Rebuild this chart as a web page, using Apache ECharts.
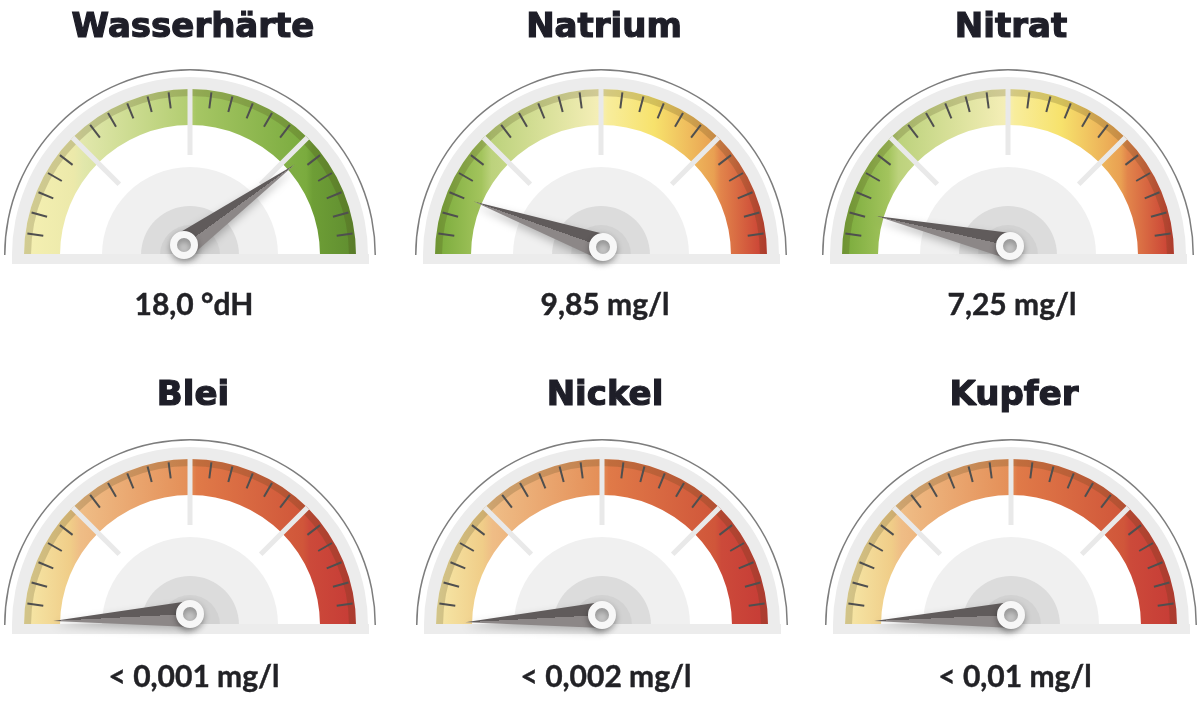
<!DOCTYPE html>
<html><head><meta charset="utf-8">
<script src="https://cdn.jsdelivr.net/npm/echarts@6/dist/echarts.min.js"></script>
<style>html,body{margin:0;padding:0;background:#fff}#c{width:1200px;height:705px}</style>
</head><body><div id="c"></div>
<script>
// ---- data ----
const titles = ['Wasserhärte', 'Natrium', 'Nitrat', 'Blei', 'Nickel', 'Kupfer'];
const valueLabels = ['18,0 °dH', '9,85 mg/l', '7,25 mg/l', '< 0,001 mg/l', '< 0,002 mg/l', '< 0,01 mg/l'];
// needle position in % of the dial (0 = far left, 100 = far right)
const needleValues = [80, 10.8, 7, -1.6, -1.7, -1.4];
const schemes = ['green', 'traffic', 'traffic', 'red', 'red', 'red'];

// ---- layout / style ----
const centers = [[190, 255], [601, 255], [1008, 255], [190, 625], [602, 625], [1011, 625]];
const hubOffsets = [[-6, -10], [2, -8], [2, -9], [0, -11], [0, -10], [0, -10]];
const palettes = {
  green: [[0, '#f5f0b2'], [0.15, '#ece9aa'], [0.18, '#e1e7ab'], [0.5, '#b2cd70'], [0.52, '#a6c664'], [0.85, '#7aab3e'], [0.87, '#6e9e36'], [1, '#5f8d2f']],
  traffic: [[0, '#78aa3a'], [0.14, '#a3c45d'], [0.17, '#bcd27c'], [0.5, '#f6efb8'], [0.52, '#f8ed9c'], [0.66, '#f7e26c'], [0.84, '#e9a052'], [0.86, '#e2854b'], [1, '#c83b33']],
  red: [[0, '#f6e8a8'], [0.14, '#f0cd88'], [0.17, '#efbd86'], [0.5, '#e48e57'], [0.52, '#e07a48'], [0.84, '#d0563a'], [0.86, '#cc4a3a'], [1, '#c63b36']]
};

function hidden(cx, cy, r) {
  return {
    type: 'gauge', center: [cx, cy], radius: r, startAngle: 180, endAngle: 0,
    min: 0, max: 100, silent: true, animation: false,
    axisLine: { show: false, lineStyle: { width: 0 } },
    axisTick: { show: false }, splitLine: { show: false }, axisLabel: { show: false },
    pointer: { show: false }, anchor: { show: false }, title: { show: false }, detail: { show: false },
    data: [{ value: 0 }]
  };
}
function ring(cx, cy, r, w, color, z) {
  const s = hidden(cx, cy, r);
  s.axisLine = { show: true, lineStyle: { width: w, color: [[1, color]] } };
  s.z = z || 2;
  return s;
}

const series = [];
const graphics = [];
centers.forEach(function (c, i) {
  const cx = c[0], cy = c[1];
  const pal = palettes[schemes[i]];
  const grad = {
    type: 'linear', x: cx - 166, y: 0, x2: cx + 166, y2: 0, global: true,
    colorStops: pal.map(function (p) { return { offset: p[0], color: p[1] }; })
  };
  series.push(ring(cx, cy, 186, 1.5, '#7d7d7d'));
  series.push(ring(cx, cy, 178, 12, '#ececec'));
  series.push(ring(cx, cy, 166, 36, grad));
  series.push(ring(cx, cy, 166, 7, 'rgba(70,60,20,0.2)'));
  // ticks
  const t = hidden(cx, cy, 166);
  t.startAngle = 172.5; t.endAngle = 7.5; t.splitNumber = 22;
  t.splitLine = { show: true, distance: 2, length: 16, lineStyle: { color: '#4f4f4f', width: 2 } };
  t.z = 2;
  series.push(t);
  // separators
  const s = hidden(cx, cy, 166);
  s.startAngle = 135; s.endAngle = 45; s.splitNumber = 2;
  s.splitLine = { show: true, distance: 0.01, length: 66, lineStyle: { color: '#e9e9e9', width: 5 } };
  s.z = 2;
  series.push(s);
  // inner discs
  series.push(ring(cx, cy, 88, 88, '#f0f0f0'));
  series.push(ring(cx, cy, 49, 49, '#dcdcdc'));
  series.push(ring(cx, cy, 30, 30, '#d2d2d2'));
  // bottom bar
  graphics.push({ type: 'rect', z: 3, silent: true, shape: { x: cx - 178, y: cy - 1, width: 357, height: 10 }, style: { fill: '#ececec' } });
  // needle
  const v = needleValues[i];
  const darkLeft = v > 50;
  const n = hidden(cx + hubOffsets[i][0], cy + hubOffsets[i][1], 137);
  n.min = -10; n.max = 110; n.startAngle = 198; n.endAngle = -18;
  n.z = 5;
  n.pointer = {
    show: true, icon: 'triangle', length: 137, width: 26, offsetCenter: [0, 0],
    itemStyle: {
      color: {
        type: 'linear', x: 0, y: 0, x2: 1, y2: 0,
        colorStops: darkLeft
          ? [{ offset: 0, color: '#605b5b' }, { offset: 0.5, color: '#605b5b' }, { offset: 0.5, color: '#8c8787' }, { offset: 1, color: '#8c8787' }]
          : [{ offset: 0, color: '#8c8787' }, { offset: 0.5, color: '#8c8787' }, { offset: 0.5, color: '#605b5b' }, { offset: 1, color: '#605b5b' }]
      },
      shadowBlur: 8, shadowColor: 'rgba(0,0,0,0.25)', shadowOffsetY: 4
    }
  };
  n.anchor = {
    show: true, showAbove: true, size: 21, icon: 'circle',
    itemStyle: { color: '#c6c6c6', borderColor: '#f7f7f7', borderWidth: 7, shadowBlur: 6, shadowColor: 'rgba(0,0,0,0.3)', shadowOffsetY: 3 }
  };
  n.data = [{ value: v }];
  series.push(n);
  // texts
  const row = i < 3 ? 0 : 1;
  graphics.push({ type: 'text', z: 10, x: cx + 3, y: row ? 396 : 28,
    style: { text: titles[i], font: 'bold 34px "DejaVu Sans"', fill: '#1e1e28', stroke: '#1e1e28', lineWidth: 1.2, textAlign: 'center', textVerticalAlign: 'middle' } });
  graphics.push({ type: 'text', z: 10, x: cx + 4, y: row ? 677 : 305,
    style: { text: valueLabels[i], font: '700 30px Lato', fill: '#222226', stroke: '#222226', lineWidth: 0.4, textAlign: 'center', textVerticalAlign: 'middle' } });
});

const chart = echarts.init(document.getElementById('c'), null, { renderer: 'canvas' });
chart.setOption({ backgroundColor: '#ffffff', animation: false, series: series, graphic: { elements: graphics } });
</script></body></html>
